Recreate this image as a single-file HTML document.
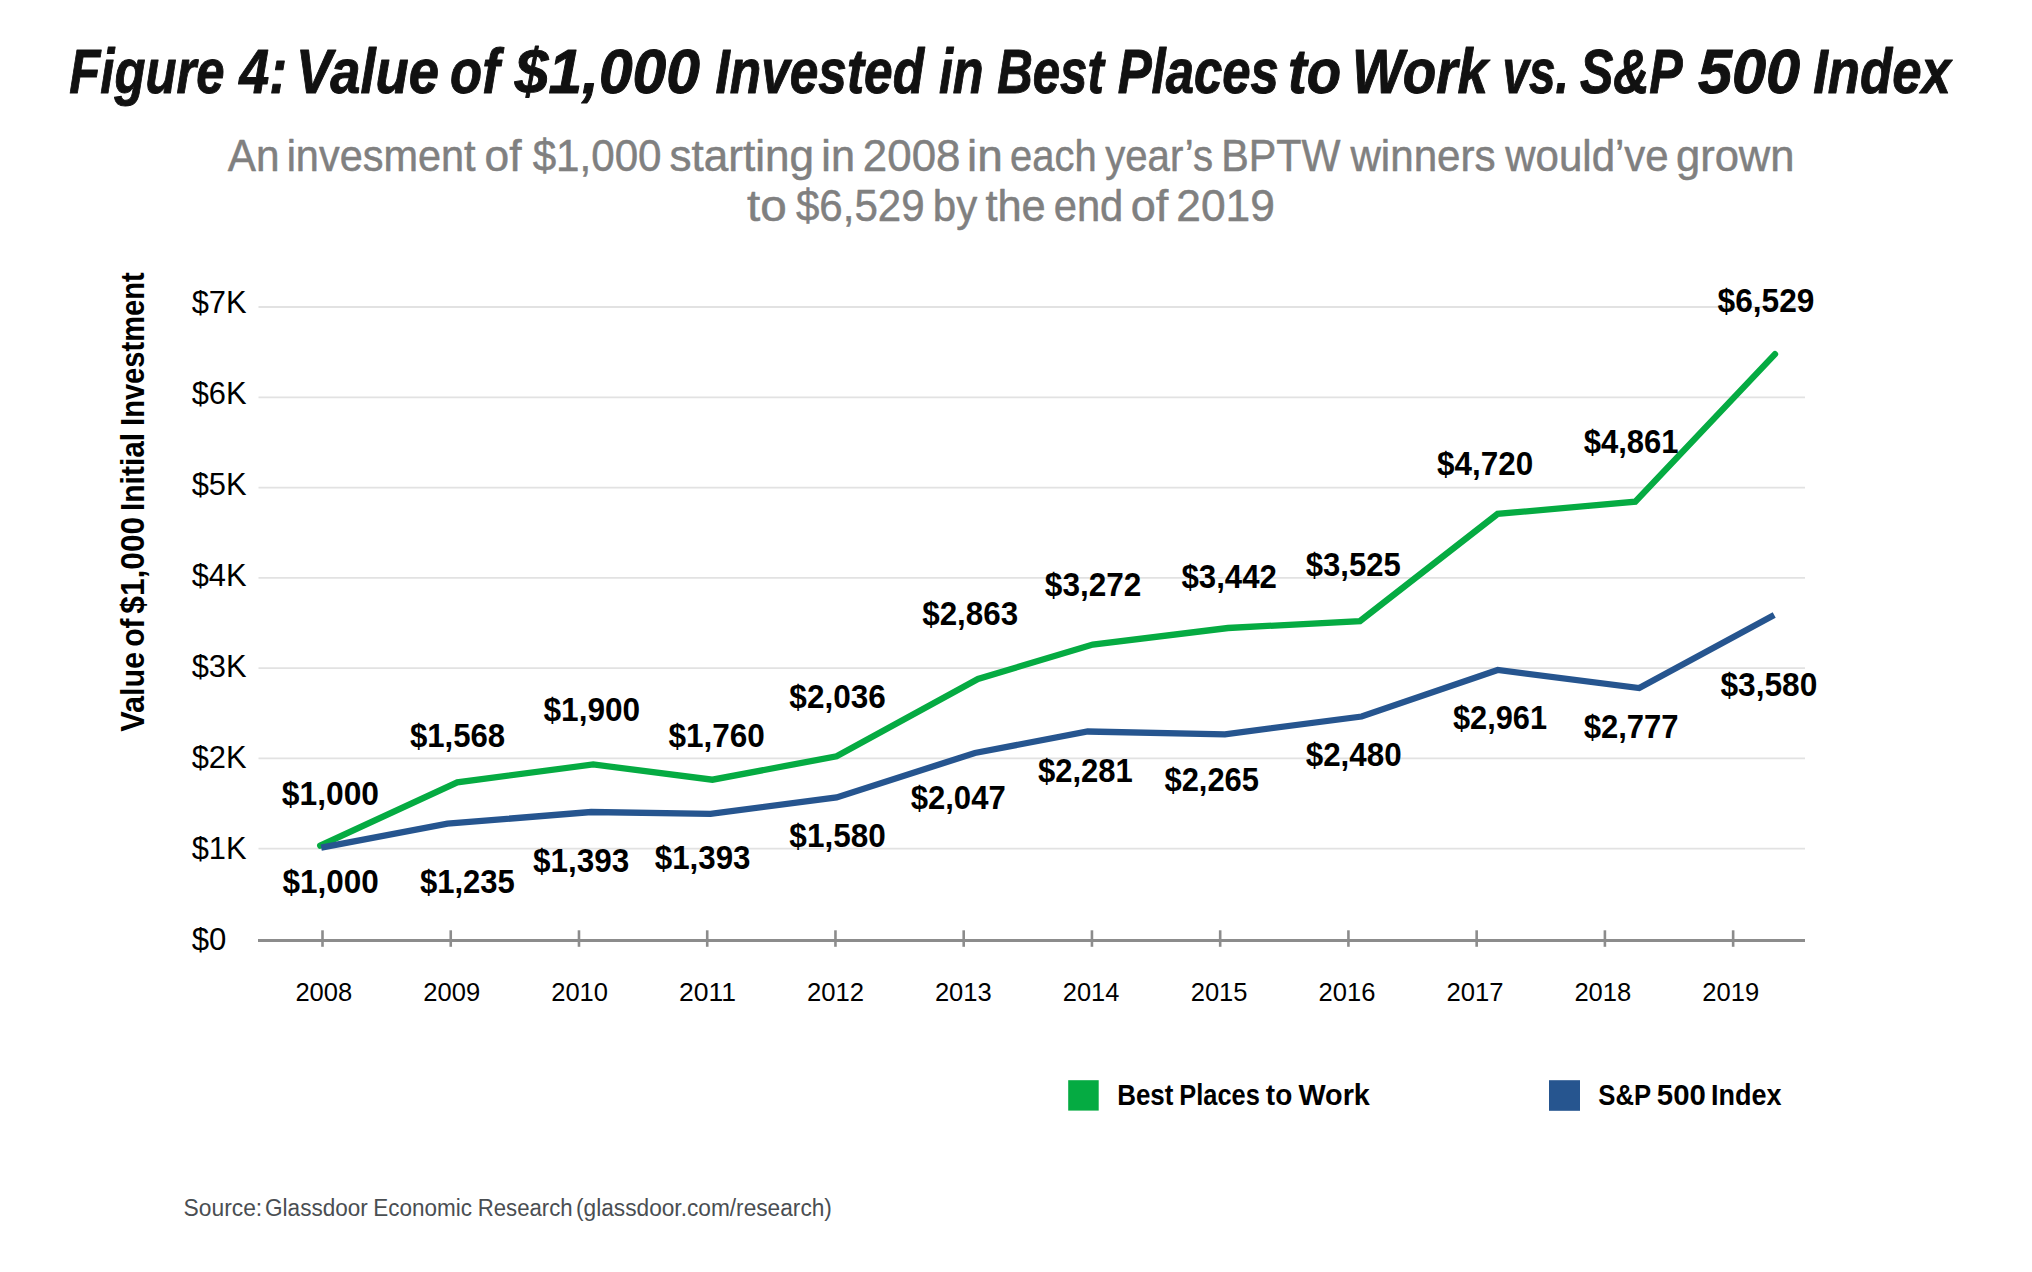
<!DOCTYPE html>
<html><head><meta charset="utf-8"><title>Figure 4</title>
<style>html,body{margin:0;padding:0;background:#fff}svg{display:block}text{font-family:"Liberation Sans",sans-serif}</style></head>
<body><svg width="2032" height="1272" viewBox="0 0 2032 1272">
<rect width="2032" height="1272" fill="#fff"/>
<line x1="258.5" y1="307.00" x2="1805" y2="307.00" stroke="#e2e2e2" stroke-width="1.8"/>
<line x1="258.5" y1="397.28" x2="1805" y2="397.28" stroke="#e2e2e2" stroke-width="1.8"/>
<line x1="258.5" y1="487.56" x2="1805" y2="487.56" stroke="#e2e2e2" stroke-width="1.8"/>
<line x1="258.5" y1="577.84" x2="1805" y2="577.84" stroke="#e2e2e2" stroke-width="1.8"/>
<line x1="258.5" y1="668.12" x2="1805" y2="668.12" stroke="#e2e2e2" stroke-width="1.8"/>
<line x1="258.5" y1="758.40" x2="1805" y2="758.40" stroke="#e2e2e2" stroke-width="1.8"/>
<line x1="258.5" y1="848.68" x2="1805" y2="848.68" stroke="#e2e2e2" stroke-width="1.8"/>
<line x1="258" y1="940.4" x2="1805" y2="940.4" stroke="#8c8c8c" stroke-width="3"/>
<line x1="322.50" y1="930.3" x2="322.50" y2="946.8" stroke="#8c8c8c" stroke-width="2.6"/>
<line x1="450.74" y1="930.3" x2="450.74" y2="946.8" stroke="#8c8c8c" stroke-width="2.6"/>
<line x1="578.98" y1="930.3" x2="578.98" y2="946.8" stroke="#8c8c8c" stroke-width="2.6"/>
<line x1="707.22" y1="930.3" x2="707.22" y2="946.8" stroke="#8c8c8c" stroke-width="2.6"/>
<line x1="835.46" y1="930.3" x2="835.46" y2="946.8" stroke="#8c8c8c" stroke-width="2.6"/>
<line x1="963.70" y1="930.3" x2="963.70" y2="946.8" stroke="#8c8c8c" stroke-width="2.6"/>
<line x1="1091.94" y1="930.3" x2="1091.94" y2="946.8" stroke="#8c8c8c" stroke-width="2.6"/>
<line x1="1220.18" y1="930.3" x2="1220.18" y2="946.8" stroke="#8c8c8c" stroke-width="2.6"/>
<line x1="1348.42" y1="930.3" x2="1348.42" y2="946.8" stroke="#8c8c8c" stroke-width="2.6"/>
<line x1="1476.66" y1="930.3" x2="1476.66" y2="946.8" stroke="#8c8c8c" stroke-width="2.6"/>
<line x1="1604.90" y1="930.3" x2="1604.90" y2="946.8" stroke="#8c8c8c" stroke-width="2.6"/>
<line x1="1733.14" y1="930.3" x2="1733.14" y2="946.8" stroke="#8c8c8c" stroke-width="2.6"/>
<polyline points="320.2,845.6 457.3,782.3 593.2,764.5 712.4,779.7 836.6,756.3 978,679 1092.8,644.5 1228,628 1360,621.1 1497.6,513.9 1635.3,501.6 1775,354.2" fill="none" stroke="#05ab42" stroke-width="6.3" stroke-linejoin="miter" stroke-miterlimit="10" stroke-linecap="round"/>
<polyline points="321.2,847.6 447.5,823.7 591.2,812 710.5,813.8 836.6,797.4 974.9,753 1087.7,731.5 1224.9,734.3 1361.6,716.5 1497.7,670 1639.2,688.1 1774.2,614.9" fill="none" stroke="#26558f" stroke-width="6.3" stroke-linejoin="miter" stroke-miterlimit="10" stroke-linecap="butt"/>
<rect x="1068.2" y="1080.2" width="30.5" height="30.4" fill="#05ab42"/>
<rect x="1549" y="1080.2" width="31" height="30.6" fill="#26558f"/>
<text x="69.28" y="93.20" font-size="62.42" font-weight="bold" font-style="italic" fill="#111" stroke="#111" stroke-width="1.0" stroke-linejoin="round" textLength="155.12" lengthAdjust="spacingAndGlyphs">Figure</text>
<text x="239.28" y="93.20" font-size="62.42" font-weight="bold" font-style="italic" fill="#111" stroke="#111" stroke-width="1.0" stroke-linejoin="round" textLength="47.81" lengthAdjust="spacingAndGlyphs">4:</text>
<text x="296.06" y="93.20" font-size="62.42" font-weight="bold" font-style="italic" fill="#111" stroke="#111" stroke-width="1.0" stroke-linejoin="round" textLength="142.82" lengthAdjust="spacingAndGlyphs">Value</text>
<text x="450.12" y="93.20" font-size="62.42" font-weight="bold" font-style="italic" fill="#111" stroke="#111" stroke-width="1.0" stroke-linejoin="round" textLength="49.58" lengthAdjust="spacingAndGlyphs">of</text>
<text x="514.80" y="93.20" font-size="62.42" font-weight="bold" font-style="italic" fill="#111" stroke="#111" stroke-width="1.0" stroke-linejoin="round" textLength="185.02" lengthAdjust="spacingAndGlyphs">$1,000</text>
<text x="715.47" y="93.20" font-size="62.42" font-weight="bold" font-style="italic" fill="#111" stroke="#111" stroke-width="1.0" stroke-linejoin="round" textLength="208.57" lengthAdjust="spacingAndGlyphs">Invested</text>
<text x="938.89" y="93.20" font-size="62.42" font-weight="bold" font-style="italic" fill="#111" stroke="#111" stroke-width="1.0" stroke-linejoin="round" textLength="44.76" lengthAdjust="spacingAndGlyphs">in</text>
<text x="997.22" y="93.20" font-size="62.42" font-weight="bold" font-style="italic" fill="#111" stroke="#111" stroke-width="1.0" stroke-linejoin="round" textLength="106.59" lengthAdjust="spacingAndGlyphs">Best</text>
<text x="1117.68" y="93.20" font-size="62.42" font-weight="bold" font-style="italic" fill="#111" stroke="#111" stroke-width="1.0" stroke-linejoin="round" textLength="161.23" lengthAdjust="spacingAndGlyphs">Places</text>
<text x="1287.95" y="93.20" font-size="62.42" font-weight="bold" font-style="italic" fill="#111" stroke="#111" stroke-width="1.0" stroke-linejoin="round" textLength="53.16" lengthAdjust="spacingAndGlyphs">to</text>
<text x="1351.96" y="93.20" font-size="62.42" font-weight="bold" font-style="italic" fill="#111" stroke="#111" stroke-width="1.0" stroke-linejoin="round" textLength="136.06" lengthAdjust="spacingAndGlyphs">Work</text>
<text x="1502.51" y="93.20" font-size="62.42" font-weight="bold" font-style="italic" fill="#111" stroke="#111" stroke-width="1.0" stroke-linejoin="round" textLength="66.39" lengthAdjust="spacingAndGlyphs">vs.</text>
<text x="1579.90" y="93.20" font-size="62.42" font-weight="bold" font-style="italic" fill="#111" stroke="#111" stroke-width="1.0" stroke-linejoin="round" textLength="102.71" lengthAdjust="spacingAndGlyphs">S&amp;P</text>
<text x="1697.89" y="93.20" font-size="62.42" font-weight="bold" font-style="italic" fill="#111" stroke="#111" stroke-width="1.0" stroke-linejoin="round" textLength="102.24" lengthAdjust="spacingAndGlyphs">500</text>
<text x="1813.15" y="93.20" font-size="62.42" font-weight="bold" font-style="italic" fill="#111" stroke="#111" stroke-width="1.0" stroke-linejoin="round" textLength="137.67" lengthAdjust="spacingAndGlyphs">Index</text>
<text x="227.75" y="170.70" font-size="43.52" font-weight="normal" font-style="normal" fill="#808080" stroke="#808080" stroke-width="0.5" stroke-linejoin="round" textLength="51.78" lengthAdjust="spacingAndGlyphs">An</text>
<text x="286.65" y="170.70" font-size="43.52" font-weight="normal" font-style="normal" fill="#808080" stroke="#808080" stroke-width="0.5" stroke-linejoin="round" textLength="188.92" lengthAdjust="spacingAndGlyphs">invesment</text>
<text x="484.58" y="170.70" font-size="43.52" font-weight="normal" font-style="normal" fill="#808080" stroke="#808080" stroke-width="0.5" stroke-linejoin="round" textLength="36.95" lengthAdjust="spacingAndGlyphs">of</text>
<text x="532.63" y="170.70" font-size="43.52" font-weight="normal" font-style="normal" fill="#808080" stroke="#808080" stroke-width="0.5" stroke-linejoin="round" textLength="128.95" lengthAdjust="spacingAndGlyphs">$1,000</text>
<text x="669.53" y="170.70" font-size="43.52" font-weight="normal" font-style="normal" fill="#808080" stroke="#808080" stroke-width="0.5" stroke-linejoin="round" textLength="144.58" lengthAdjust="spacingAndGlyphs">starting</text>
<text x="821.32" y="170.70" font-size="43.52" font-weight="normal" font-style="normal" fill="#808080" stroke="#808080" stroke-width="0.5" stroke-linejoin="round" textLength="33.69" lengthAdjust="spacingAndGlyphs">in</text>
<text x="862.86" y="170.70" font-size="43.52" font-weight="normal" font-style="normal" fill="#808080" stroke="#808080" stroke-width="0.5" stroke-linejoin="round" textLength="97.55" lengthAdjust="spacingAndGlyphs">2008</text>
<text x="967.13" y="170.70" font-size="43.52" font-weight="normal" font-style="normal" fill="#808080" stroke="#808080" stroke-width="0.5" stroke-linejoin="round" textLength="35.76" lengthAdjust="spacingAndGlyphs">in</text>
<text x="1010.05" y="170.70" font-size="43.52" font-weight="normal" font-style="normal" fill="#808080" stroke="#808080" stroke-width="0.5" stroke-linejoin="round" textLength="86.53" lengthAdjust="spacingAndGlyphs">each</text>
<text x="1105.15" y="170.70" font-size="43.52" font-weight="normal" font-style="normal" fill="#808080" stroke="#808080" stroke-width="0.5" stroke-linejoin="round" textLength="107.87" lengthAdjust="spacingAndGlyphs">year’s</text>
<text x="1221.15" y="170.70" font-size="43.52" font-weight="normal" font-style="normal" fill="#808080" stroke="#808080" stroke-width="0.5" stroke-linejoin="round" textLength="119.26" lengthAdjust="spacingAndGlyphs">BPTW</text>
<text x="1350.45" y="170.70" font-size="43.52" font-weight="normal" font-style="normal" fill="#808080" stroke="#808080" stroke-width="0.5" stroke-linejoin="round" textLength="145.21" lengthAdjust="spacingAndGlyphs">winners</text>
<text x="1505.25" y="170.70" font-size="43.52" font-weight="normal" font-style="normal" fill="#808080" stroke="#808080" stroke-width="0.5" stroke-linejoin="round" textLength="163.43" lengthAdjust="spacingAndGlyphs">would’ve</text>
<text x="1675.91" y="170.70" font-size="43.52" font-weight="normal" font-style="normal" fill="#808080" stroke="#808080" stroke-width="0.5" stroke-linejoin="round" textLength="118.62" lengthAdjust="spacingAndGlyphs">grown</text>
<text x="747.00" y="220.90" font-size="43.67" font-weight="normal" font-style="normal" fill="#808080" stroke="#808080" stroke-width="0.5" stroke-linejoin="round" textLength="39.75" lengthAdjust="spacingAndGlyphs">to</text>
<text x="795.93" y="220.90" font-size="43.67" font-weight="normal" font-style="normal" fill="#808080" stroke="#808080" stroke-width="0.5" stroke-linejoin="round" textLength="128.66" lengthAdjust="spacingAndGlyphs">$6,529</text>
<text x="932.81" y="220.90" font-size="43.67" font-weight="normal" font-style="normal" fill="#808080" stroke="#808080" stroke-width="0.5" stroke-linejoin="round" textLength="44.41" lengthAdjust="spacingAndGlyphs">by</text>
<text x="985.38" y="220.90" font-size="43.67" font-weight="normal" font-style="normal" fill="#808080" stroke="#808080" stroke-width="0.5" stroke-linejoin="round" textLength="60.41" lengthAdjust="spacingAndGlyphs">the</text>
<text x="1053.68" y="220.90" font-size="43.67" font-weight="normal" font-style="normal" fill="#808080" stroke="#808080" stroke-width="0.5" stroke-linejoin="round" textLength="69.63" lengthAdjust="spacingAndGlyphs">end</text>
<text x="1130.65" y="220.90" font-size="43.67" font-weight="normal" font-style="normal" fill="#808080" stroke="#808080" stroke-width="0.5" stroke-linejoin="round" textLength="37.59" lengthAdjust="spacingAndGlyphs">of</text>
<text x="1176.33" y="220.90" font-size="43.67" font-weight="normal" font-style="normal" fill="#808080" stroke="#808080" stroke-width="0.5" stroke-linejoin="round" textLength="98.60" lengthAdjust="spacingAndGlyphs">2019</text>
<text x="191.69" y="312.90" font-size="31.69" font-weight="normal" font-style="normal" fill="#000" textLength="54.91" lengthAdjust="spacingAndGlyphs">$7K</text>
<text x="191.69" y="403.90" font-size="31.69" font-weight="normal" font-style="normal" fill="#000" textLength="54.91" lengthAdjust="spacingAndGlyphs">$6K</text>
<text x="191.69" y="494.90" font-size="31.69" font-weight="normal" font-style="normal" fill="#000" textLength="54.91" lengthAdjust="spacingAndGlyphs">$5K</text>
<text x="191.69" y="585.90" font-size="31.69" font-weight="normal" font-style="normal" fill="#000" textLength="54.91" lengthAdjust="spacingAndGlyphs">$4K</text>
<text x="191.69" y="676.90" font-size="31.69" font-weight="normal" font-style="normal" fill="#000" textLength="54.91" lengthAdjust="spacingAndGlyphs">$3K</text>
<text x="191.69" y="767.90" font-size="31.69" font-weight="normal" font-style="normal" fill="#000" textLength="54.91" lengthAdjust="spacingAndGlyphs">$2K</text>
<text x="191.69" y="858.90" font-size="31.69" font-weight="normal" font-style="normal" fill="#000" textLength="54.91" lengthAdjust="spacingAndGlyphs">$1K</text>
<text x="191.69" y="949.90" font-size="31.69" font-weight="normal" font-style="normal" fill="#000" textLength="34.63" lengthAdjust="spacingAndGlyphs">$0</text>
<text transform="translate(143.80,731.50) rotate(-90)" x="-0.31" y="0" font-size="33.14" font-weight="bold" font-style="normal" fill="#000" textLength="79.91" lengthAdjust="spacingAndGlyphs">Value</text>
<text transform="translate(143.80,645.60) rotate(-90)" x="-1.20" y="0" font-size="33.14" font-weight="bold" font-style="normal" fill="#000" textLength="28.42" lengthAdjust="spacingAndGlyphs">of</text>
<text transform="translate(143.80,613.10) rotate(-90)" x="-0.63" y="0" font-size="33.14" font-weight="bold" font-style="normal" fill="#000" textLength="96.86" lengthAdjust="spacingAndGlyphs">$1,000</text>
<text transform="translate(143.80,508.90) rotate(-90)" x="-2.09" y="0" font-size="33.14" font-weight="bold" font-style="normal" fill="#000" textLength="78.13" lengthAdjust="spacingAndGlyphs">Initial</text>
<text transform="translate(143.80,423.90) rotate(-90)" x="-2.04" y="0" font-size="33.14" font-weight="bold" font-style="normal" fill="#000" textLength="153.61" lengthAdjust="spacingAndGlyphs">Investment</text>
<text x="295.42" y="1000.80" font-size="25.15" font-weight="normal" font-style="normal" fill="#000" textLength="56.82" lengthAdjust="spacingAndGlyphs">2008</text>
<text x="423.32" y="1000.80" font-size="25.15" font-weight="normal" font-style="normal" fill="#000" textLength="56.82" lengthAdjust="spacingAndGlyphs">2009</text>
<text x="551.22" y="1000.80" font-size="25.15" font-weight="normal" font-style="normal" fill="#000" textLength="56.82" lengthAdjust="spacingAndGlyphs">2010</text>
<text x="679.07" y="1000.80" font-size="25.15" font-weight="normal" font-style="normal" fill="#000" textLength="57.07" lengthAdjust="spacingAndGlyphs">2011</text>
<text x="807.02" y="1000.80" font-size="25.15" font-weight="normal" font-style="normal" fill="#000" textLength="57.09" lengthAdjust="spacingAndGlyphs">2012</text>
<text x="934.92" y="1000.80" font-size="25.15" font-weight="normal" font-style="normal" fill="#000" textLength="56.82" lengthAdjust="spacingAndGlyphs">2013</text>
<text x="1062.83" y="1000.80" font-size="25.15" font-weight="normal" font-style="normal" fill="#000" textLength="56.55" lengthAdjust="spacingAndGlyphs">2014</text>
<text x="1190.72" y="1000.80" font-size="25.15" font-weight="normal" font-style="normal" fill="#000" textLength="56.82" lengthAdjust="spacingAndGlyphs">2015</text>
<text x="1318.62" y="1000.80" font-size="25.15" font-weight="normal" font-style="normal" fill="#000" textLength="56.82" lengthAdjust="spacingAndGlyphs">2016</text>
<text x="1446.52" y="1000.80" font-size="25.15" font-weight="normal" font-style="normal" fill="#000" textLength="57.09" lengthAdjust="spacingAndGlyphs">2017</text>
<text x="1574.42" y="1000.80" font-size="25.15" font-weight="normal" font-style="normal" fill="#000" textLength="56.82" lengthAdjust="spacingAndGlyphs">2018</text>
<text x="1702.32" y="1000.80" font-size="25.15" font-weight="normal" font-style="normal" fill="#000" textLength="56.82" lengthAdjust="spacingAndGlyphs">2019</text>
<text x="281.86" y="804.90" font-size="32.70" font-weight="bold" font-style="normal" fill="#000" textLength="97.16" lengthAdjust="spacingAndGlyphs">$1,000</text>
<text x="409.88" y="747.20" font-size="32.70" font-weight="bold" font-style="normal" fill="#000" textLength="95.31" lengthAdjust="spacingAndGlyphs">$1,568</text>
<text x="543.57" y="720.50" font-size="32.70" font-weight="bold" font-style="normal" fill="#000" textLength="96.55" lengthAdjust="spacingAndGlyphs">$1,900</text>
<text x="668.47" y="747.20" font-size="32.70" font-weight="bold" font-style="normal" fill="#000" textLength="96.35" lengthAdjust="spacingAndGlyphs">$1,760</text>
<text x="789.37" y="708.40" font-size="32.70" font-weight="bold" font-style="normal" fill="#000" textLength="96.35" lengthAdjust="spacingAndGlyphs">$2,036</text>
<text x="922.27" y="625.20" font-size="32.70" font-weight="bold" font-style="normal" fill="#000" textLength="95.84" lengthAdjust="spacingAndGlyphs">$2,863</text>
<text x="1044.87" y="596.00" font-size="32.70" font-weight="bold" font-style="normal" fill="#000" textLength="96.55" lengthAdjust="spacingAndGlyphs">$3,272</text>
<text x="1181.48" y="587.80" font-size="32.70" font-weight="bold" font-style="normal" fill="#000" textLength="95.43" lengthAdjust="spacingAndGlyphs">$3,442</text>
<text x="1305.78" y="576.20" font-size="32.70" font-weight="bold" font-style="normal" fill="#000" textLength="94.91" lengthAdjust="spacingAndGlyphs">$3,525</text>
<text x="1437.07" y="475.20" font-size="32.70" font-weight="bold" font-style="normal" fill="#000" textLength="96.04" lengthAdjust="spacingAndGlyphs">$4,720</text>
<text x="1583.68" y="452.50" font-size="32.70" font-weight="bold" font-style="normal" fill="#000" textLength="94.91" lengthAdjust="spacingAndGlyphs">$4,861</text>
<text x="1717.57" y="311.70" font-size="32.70" font-weight="bold" font-style="normal" fill="#000" textLength="96.86" lengthAdjust="spacingAndGlyphs">$6,529</text>
<text x="282.47" y="892.90" font-size="32.70" font-weight="bold" font-style="normal" fill="#000" textLength="96.24" lengthAdjust="spacingAndGlyphs">$1,000</text>
<text x="419.98" y="892.90" font-size="32.70" font-weight="bold" font-style="normal" fill="#000" textLength="94.91" lengthAdjust="spacingAndGlyphs">$1,235</text>
<text x="533.07" y="872.30" font-size="32.70" font-weight="bold" font-style="normal" fill="#000" textLength="96.24" lengthAdjust="spacingAndGlyphs">$1,393</text>
<text x="654.77" y="869.20" font-size="32.70" font-weight="bold" font-style="normal" fill="#000" textLength="95.73" lengthAdjust="spacingAndGlyphs">$1,393</text>
<text x="789.37" y="847.20" font-size="32.70" font-weight="bold" font-style="normal" fill="#000" textLength="96.35" lengthAdjust="spacingAndGlyphs">$1,580</text>
<text x="910.68" y="809.40" font-size="32.70" font-weight="bold" font-style="normal" fill="#000" textLength="95.03" lengthAdjust="spacingAndGlyphs">$2,047</text>
<text x="1037.98" y="782.00" font-size="32.70" font-weight="bold" font-style="normal" fill="#000" textLength="94.91" lengthAdjust="spacingAndGlyphs">$2,281</text>
<text x="1164.48" y="791.20" font-size="32.70" font-weight="bold" font-style="normal" fill="#000" textLength="94.50" lengthAdjust="spacingAndGlyphs">$2,265</text>
<text x="1305.77" y="765.80" font-size="32.70" font-weight="bold" font-style="normal" fill="#000" textLength="95.84" lengthAdjust="spacingAndGlyphs">$2,480</text>
<text x="1452.99" y="729.00" font-size="32.70" font-weight="bold" font-style="normal" fill="#000" textLength="93.99" lengthAdjust="spacingAndGlyphs">$2,961</text>
<text x="1583.68" y="738.30" font-size="32.70" font-weight="bold" font-style="normal" fill="#000" textLength="94.93" lengthAdjust="spacingAndGlyphs">$2,777</text>
<text x="1720.47" y="695.50" font-size="32.70" font-weight="bold" font-style="normal" fill="#000" textLength="96.86" lengthAdjust="spacingAndGlyphs">$3,580</text>
<text x="1117.19" y="1104.50" font-size="29.36" font-weight="bold" font-style="normal" fill="#000" textLength="56.11" lengthAdjust="spacingAndGlyphs">Best</text>
<text x="1179.32" y="1104.50" font-size="29.36" font-weight="bold" font-style="normal" fill="#000" textLength="80.48" lengthAdjust="spacingAndGlyphs">Places</text>
<text x="1265.82" y="1104.50" font-size="29.36" font-weight="bold" font-style="normal" fill="#000" textLength="26.41" lengthAdjust="spacingAndGlyphs">to</text>
<text x="1298.40" y="1104.50" font-size="29.36" font-weight="bold" font-style="normal" fill="#000" textLength="71.46" lengthAdjust="spacingAndGlyphs">Work</text>
<text x="1598.33" y="1104.50" font-size="29.36" font-weight="bold" font-style="normal" fill="#000" textLength="52.80" lengthAdjust="spacingAndGlyphs">S&amp;P</text>
<text x="1656.82" y="1104.50" font-size="29.36" font-weight="bold" font-style="normal" fill="#000" textLength="49.01" lengthAdjust="spacingAndGlyphs">500</text>
<text x="1710.91" y="1104.50" font-size="29.36" font-weight="bold" font-style="normal" fill="#000" textLength="70.51" lengthAdjust="spacingAndGlyphs">Index</text>
<text x="183.56" y="1215.60" font-size="23.98" font-weight="normal" font-style="normal" fill="#4a4e52" textLength="78.64" lengthAdjust="spacingAndGlyphs">Source:</text>
<text x="265.07" y="1215.60" font-size="23.98" font-weight="normal" font-style="normal" fill="#4a4e52" textLength="102.72" lengthAdjust="spacingAndGlyphs">Glassdoor</text>
<text x="373.20" y="1215.60" font-size="23.98" font-weight="normal" font-style="normal" fill="#4a4e52" textLength="98.69" lengthAdjust="spacingAndGlyphs">Economic</text>
<text x="477.73" y="1215.60" font-size="23.98" font-weight="normal" font-style="normal" fill="#4a4e52" textLength="94.92" lengthAdjust="spacingAndGlyphs">Research</text>
<text x="576.04" y="1215.60" font-size="23.98" font-weight="normal" font-style="normal" fill="#4a4e52" textLength="255.87" lengthAdjust="spacingAndGlyphs">(glassdoor.com/research)</text>
</svg></body></html>
